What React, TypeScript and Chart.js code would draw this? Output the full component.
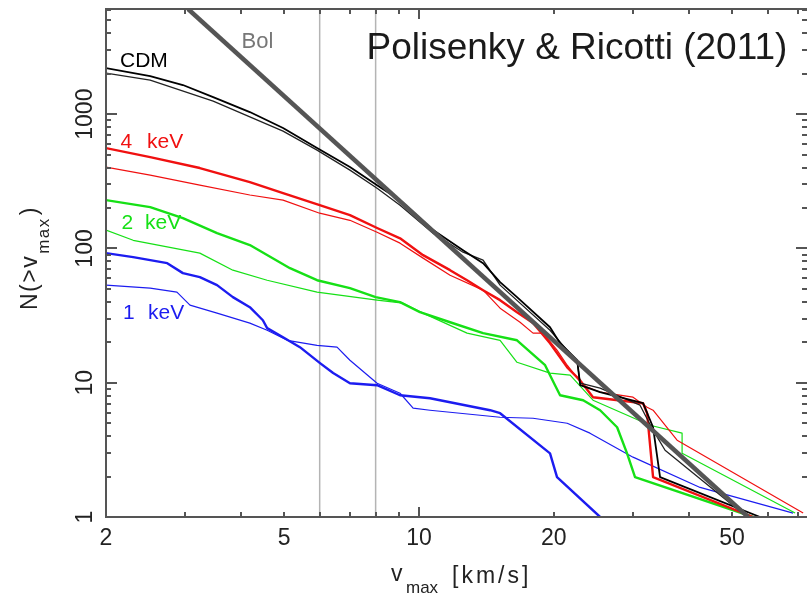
import React, { useEffect, useRef } from "react";
import { Chart, registerables } from "chart.js";

Chart.register(...registerables);

// ---- axis ranges and ticks ----
const X_RANGE = [2, 73.5];
const Y_RANGE = [1, 6070];
const xTicks = [3, 4, 5, 6, 7, 8, 9, 10, 20, 30, 40, 50, 60, 70];
const xLongTicks = [10];
const xTickLabels = ["2", "5", "10", "20", "50"];
const yTicks = [2, 3, 4, 5, 6, 7, 8, 9, 10, 20, 30, 40, 50, 60, 70, 80, 90, 100, 200, 300, 400, 500, 600, 700, 800, 900, 1000, 2000, 3000, 4000, 5000, 6000];
const yLongTicks = [10, 100, 1000];
const yTickLabels = ["1", "10", "100", "1000"];

// vertical reference lines (v_max)
const markerV = [6, 8];

// Bolshoi fit line
const bolV = [3.05, 54.3];
const bolN = [6070, 1];

// CDM
const cdmAV = [2.0, 2.51, 2.97, 3.47, 4.19, 4.97, 5.92, 7.01, 8.06, 9.07, 10.75, 12.54, 13.9, 15.17, 16.55, 19.61, 20.65, 22.55, 22.9, 25.37, 31.64, 33.31, 34.53, 57.75];
const cdmAN = [2206, 1923, 1648, 1341, 1037, 788, 559, 404, 296, 229, 137, 97.1, 77.7, 56.1, 43.4, 25.9, 19.7, 14.7, 9.58, 8.5, 7.04, 4.66, 1.98, 1.0];
const cdmBV = [2.0, 2.51, 3.47, 4.97, 5.92, 7.01, 8.06, 9.07, 10.75, 12.54, 13.9, 15.17, 19.61, 22.55, 22.9, 25.37, 31.15, 33.31, 35.43, 54.02];
const cdmBN = [2025, 1796, 1252, 748, 540, 383, 281, 210, 130, 93.8, 81.8, 53.3, 24.6, 14.2, 9.92, 9.1, 6.8, 4.43, 3.14, 1.0];

// 4 keV
const k4AV = [2.0, 2.51, 3.24, 4.19, 4.97, 6.0, 7.01, 8.06, 9.07, 10.21, 11.73, 12.8, 13.9, 15.17, 16.55, 17.97, 19.61, 21.42, 22.9, 24.46, 31.64, 32.3, 33.31, 55.7];
const k4AN = [559, 479, 397, 312, 258, 210, 177, 142, 119, 89.1, 68.9, 58.0, 48.9, 41.2, 33.5, 27.8, 19.7, 13.0, 10.4, 7.8, 7.04, 5.93, 1.98, 1.0];
const k4BV = [2.0, 2.51, 3.24, 4.19, 4.97, 6.0, 7.01, 8.06, 9.07, 10.21, 11.73, 13.9, 15.17, 16.81, 17.97, 18.93, 20.33, 21.42, 22.55, 23.25, 25.37, 30.05, 32.3, 33.31, 37.69, 72.06];
const k4BN = [404, 352, 296, 250, 229, 183, 162, 132, 109.5, 84.7, 63.2, 48.9, 35.9, 28.2, 23.4, 23.4, 17.5, 13.5, 10.8, 9.58, 8.5, 7.8, 6.57, 6.24, 3.73, 1.07];

// 2 keV
const k2AV = [2.0, 2.51, 2.97, 3.54, 4.19, 5.15, 5.92, 7.01, 8.0, 9.07, 10.05, 11.73, 13.9, 16.55, 19.12, 20.12, 20.65, 23.25, 25.37, 27.69, 29.14, 30.36, 55.7];
const k2AN = [229, 203, 168, 130, 106, 71.3, 58.0, 50.6, 43.4, 39.8, 33.5, 28.2, 23.4, 20.7, 13.5, 9.58, 8.07, 7.41, 6.24, 4.66, 2.98, 1.98, 1.0];
const k2BV = [2.0, 2.3, 3.24, 3.84, 4.58, 5.92, 8.06, 9.21, 10.21, 12.8, 15.17, 16.55, 19.61, 21.75, 24.46, 32.8, 38.67, 38.67, 69.14];
const k2BN = [137, 115, 92.3, 68.9, 58.0, 47.3, 41.2, 39.1, 33.0, 23.4, 20.7, 14.2, 11.8, 11.4, 7.41, 4.82, 4.21, 2.98, 1.07];

// 1 keV
const k1AV = [2.0, 2.3, 2.74, 2.97, 3.24, 3.54, 3.84, 4.19, 4.48, 4.58, 4.97, 5.42, 6.01, 6.43, 7.01, 8.06, 9.07, 10.58, 14.41, 15.17, 19.61, 20.33, 25.37];
const k1AN = [92.3, 86.1, 77.7, 65.5, 61.1, 53.3, 43.4, 36.5, 29.2, 25.5, 21.8, 18.4, 14.0, 11.8, 9.92, 9.58, 8.07, 7.66, 6.24, 5.93, 2.98, 1.98, 1.0];
const k1BV = [2.0, 2.51, 2.88, 3.08, 3.54, 4.19, 4.58, 5.08, 5.92, 6.56, 7.01, 8.06, 9.07, 9.7, 10.58, 15.17, 17.97, 21.42, 24.08, 30.05, 42.42, 68.44];
const k1BN = [53.3, 50.6, 47.3, 37.8, 33.0, 27.8, 24.6, 20.7, 19.0, 18.4, 14.7, 9.92, 8.35, 6.46, 6.24, 5.53, 5.44, 4.99, 4.21, 2.79, 1.66, 1.07];

const AXIS = "#555555";
const RED = "#f01010";
const GREEN = "#16e016";
const BLUE = "#1c1cf0";
const BLACK = "#000000";
const FONT = '"Liberation Sans", Arial, sans-serif';

const pts = (v: number[], n: number[]) => v.map((x, i) => ({ x, y: n[i] }));

const series = (label: string, v: number[], n: number[], color: string, width: number, order: number) => ({
  label,
  data: pts(v, n),
  borderColor: color,
  backgroundColor: color,
  borderWidth: width,
  showLine: true,
  pointRadius: 0,
  pointHoverRadius: 0,
  tension: 0,
  fill: false,
  order,
  borderJoinStyle: "round" as const,
});

const decor = {
  id: "decor",
  afterDatasetsDraw(chart: any) {
    const { ctx, chartArea: a } = chart;
    const xs = chart.scales.x;
    const ys = chart.scales.y;
    ctx.save();
    ctx.strokeStyle = AXIS;
    ctx.lineWidth = 2;
    ctx.beginPath();
    ctx.moveTo(a.left - 1, a.top);
    ctx.lineTo(a.right, a.top);
    ctx.moveTo(a.left, a.top - 1);
    ctx.lineTo(a.left, a.bottom + 1);
    ctx.moveTo(a.left - 1, a.bottom);
    ctx.lineTo(a.right, a.bottom);
    for (const v of xTicks) {
      const px = Math.round(xs.getPixelForValue(v));
      const len = xLongTicks.includes(v) ? 10 : 5;
      ctx.moveTo(px, a.bottom);
      ctx.lineTo(px, a.bottom - len);
      ctx.moveTo(px, a.top);
      ctx.lineTo(px, a.top + len);
    }
    for (const v of yTicks) {
      const py = Math.round(ys.getPixelForValue(v));
      const len = yLongTicks.includes(v) ? 11 : 5;
      ctx.moveTo(a.left, py);
      ctx.lineTo(a.left + len, py);
      ctx.moveTo(a.right, py);
      ctx.lineTo(a.right - len, py);
    }
    ctx.stroke();
    ctx.restore();
  },
  afterDraw(chart: any) {
    const { ctx, chartArea: a } = chart;
    const xs = chart.scales.x;
    const ys = chart.scales.y;
    ctx.save();
    ctx.fillStyle = "#222222";
    ctx.font = `23px ${FONT}`;
    ctx.textAlign = "center";
    ctx.textBaseline = "alphabetic";
    for (const l of xTickLabels) {
      ctx.fillText(l, xs.getPixelForValue(Number(l)), a.bottom + 28);
    }
    for (const l of yTickLabels) {
      ctx.save();
      ctx.translate(a.left - 14.5, ys.getPixelForValue(Number(l)));
      ctx.rotate(-Math.PI / 2);
      ctx.fillText(l, 0, 0);
      ctx.restore();
    }
    // x axis title
    ctx.textAlign = "left";
    ctx.font = `23px ${FONT}`;
    ctx.fillText("v", 391, 581);
    ctx.font = `17px ${FONT}`;
    ctx.fillText("max", 406, 593);
    ctx.font = `23px ${FONT}`;
    (ctx as any).letterSpacing = "3px";
    ctx.fillText("[km/s]", 452, 583);
    (ctx as any).letterSpacing = "0px";
    // y axis title
    ctx.save();
    ctx.translate(37, 310);
    ctx.rotate(-Math.PI / 2);
    ctx.font = `23px ${FONT}`;
    (ctx as any).letterSpacing = "1.5px";
    const t1 = "N(>v";
    ctx.fillText(t1, 0, 0);
    const w1 = ctx.measureText(t1).width;
    ctx.font = `17px ${FONT}`;
    ctx.fillText("max", w1 + 1, 12);
    const w2 = ctx.measureText("max").width;
    ctx.font = `23px ${FONT}`;
    ctx.fillText(")", w1 + w2 + 3, 0);
    (ctx as any).letterSpacing = "0px";
    ctx.restore();
    // title
    ctx.fillStyle = "#1a1a1a";
    ctx.font = `37px ${FONT}`;
    ctx.fillText("Polisenky & Ricotti (2011)", 366.5, 59);
    // curve labels
    ctx.font = `21px ${FONT}`;
    ctx.fillStyle = BLACK;
    ctx.fillText("CDM", 120, 66.5);
    ctx.fillStyle = RED;
    ctx.fillText("4", 120.5, 148);
    ctx.fillText("keV", 147, 148);
    ctx.fillStyle = GREEN;
    ctx.fillText("2", 121.5, 229);
    ctx.fillText("keV", 145, 229);
    ctx.fillStyle = BLUE;
    ctx.fillText("1", 123, 319);
    ctx.fillText("keV", 148, 319);
    ctx.fillStyle = "#777777";
    ctx.font = `22px ${FONT}`;
    ctx.fillText("Bol", 241.5, 47.5);
    ctx.restore();
  },
};

export default function App() {
  const ref = useRef<HTMLCanvasElement | null>(null);

  useEffect(() => {
    if (!ref.current) return;
    const datasets: any[] = [
      series("Bol", bolV, bolN, "#555555", 4.5, 0),
      series("CDM a", cdmAV, cdmAN, BLACK, 1.8, 1),
      series("CDM b", cdmBV, cdmBN, "#222222", 1.3, 1),
      series("4 keV a", k4AV, k4AN, RED, 2.4, 2),
      series("4 keV b", k4BV, k4BN, RED, 1.2, 2),
      series("2 keV a", k2AV, k2AN, GREEN, 2.4, 3),
      series("2 keV b", k2BV, k2BN, GREEN, 1.2, 3),
      series("1 keV a", k1AV, k1AN, BLUE, 2.4, 4),
      series("1 keV b", k1BV, k1BN, BLUE, 1.2, 4),
      ...markerV.map((v) =>
        series(`v=${v}`, [v, v], [Y_RANGE[0], Y_RANGE[1]], "#b4b4b4", 1.5, 5)
      ),
    ];
    const chart = new Chart(ref.current, {
      type: "scatter",
      data: { datasets },
      options: {
        animation: false,
        responsive: false,
        devicePixelRatio: 1,
        layout: { padding: { left: 106, right: 0, top: 9, bottom: 80 } },
        plugins: { legend: { display: false }, tooltip: { enabled: false } },
        events: [],
        scales: {
          x: { type: "logarithmic", display: false, min: X_RANGE[0], max: X_RANGE[1] },
          y: { type: "logarithmic", display: false, min: Y_RANGE[0], max: Y_RANGE[1] },
        },
      },
      plugins: [decor],
    });
    return () => chart.destroy();
  }, []);

  return (
    <div style={{ position: "fixed", left: 0, top: 0, width: 807, height: 597, background: "#ffffff" }}>
      <canvas ref={ref} width={807} height={597} style={{ display: "block" }} />
    </div>
  );
}
